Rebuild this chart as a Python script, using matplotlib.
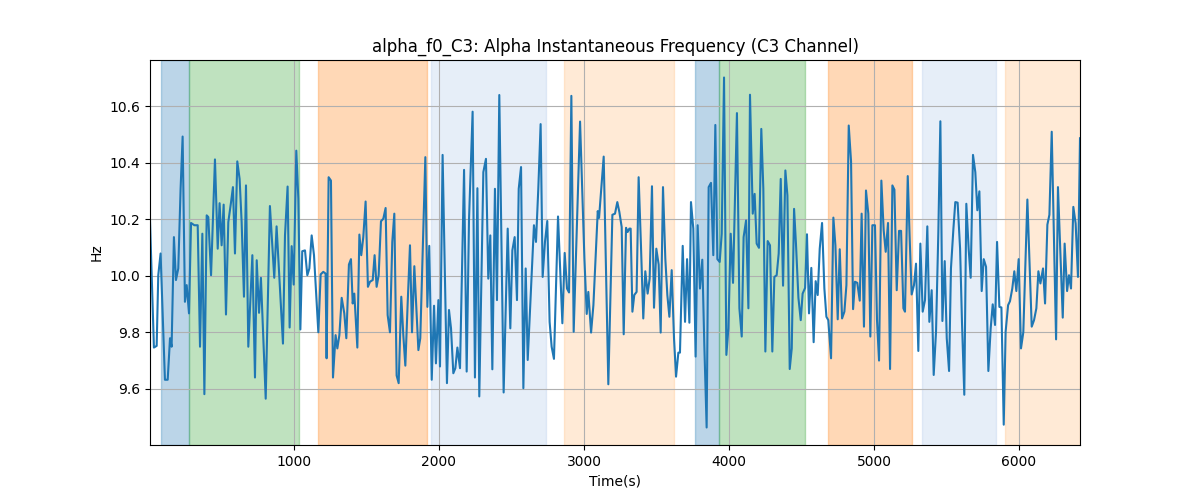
import numpy as np
import matplotlib
matplotlib.use("Agg")
from matplotlib import pyplot as plt

plt.rcParams["figure.figsize"] = [12, 5]

# ------------------------------------------------  data  ------------------------------------------------ #

time_s = [
    7, 34, 53, 64, 80, 110, 129, 145, 156, 172, 186, 202, 218, 232, 248, 260, 276, 290, 313, 336,
    352, 368, 382, 398, 409, 428, 455, 474, 487, 501, 515, 531, 547, 566, 579, 593, 609, 625, 639, 655,
    669, 685, 713, 731, 743, 759, 772, 805, 834, 864, 880, 924, 938, 956, 970, 984, 998, 1016, 1030, 1044,
    1057, 1076, 1092, 1106, 1122, 1138, 1168, 1184, 1202, 1218, 1225, 1239, 1255, 1269, 1287, 1299, 1313, 1329, 1347, 1361,
    1379, 1393, 1405, 1416, 1437, 1451, 1464, 1478, 1494, 1510, 1524, 1543, 1556, 1570, 1584, 1600, 1616, 1632, 1646, 1662,
    1678, 1692, 1708, 1722, 1740, 1754, 1768, 1784, 1800, 1814, 1830, 1844, 1858, 1871, 1906, 1920, 1933, 1950, 1966, 1979,
    1996, 2007, 2025, 2055, 2069, 2083, 2099, 2113, 2127, 2145, 2173, 2191, 2207, 2232, 2248, 2265, 2278, 2306, 2324, 2340,
    2354, 2368, 2386, 2400, 2416, 2446, 2474, 2492, 2506, 2522, 2538, 2550, 2566, 2582, 2598, 2612, 2655, 2669, 2685, 2701,
    2715, 2731, 2747, 2763, 2777, 2793, 2821, 2851, 2867, 2883, 2897, 2913, 2929, 2973, 3003, 3019, 3030, 3049, 3065, 3095,
    3104, 3136, 3168, 3196, 3214, 3230, 3244, 3260, 3274, 3290, 3301, 3313, 3322, 3334, 3347, 3363, 3377, 3393, 3409, 3423,
    3439, 3453, 3469, 3483, 3499, 3515, 3529, 3545, 3561, 3575, 3589, 3605, 3621, 3635, 3651, 3662, 3681, 3697, 3711, 3727,
    3738, 3754, 3770, 3784, 3800, 3816, 3830, 3846, 3860, 3876, 3892, 3906, 3920, 3936, 3950, 3966, 3982, 3996, 4012, 4028,
    4055, 4072, 4088, 4101, 4118, 4134, 4145, 4164, 4177, 4191, 4207, 4223, 4237, 4251, 4267, 4283, 4299, 4313, 4329, 4343,
    4357, 4373, 4389, 4403, 4419, 4433, 4449, 4462, 4479, 4495, 4508, 4525, 4538, 4552, 4568, 4584, 4598, 4612, 4626, 4642,
    4658, 4672, 4685, 4704, 4720, 4734, 4750, 4764, 4780, 4796, 4810, 4826, 4842, 4856, 4869, 4885, 4902, 4915, 4931, 4945,
    4961, 4975, 4989, 5007, 5021, 5035, 5051, 5067, 5081, 5097, 5111, 5127, 5141, 5157, 5173, 5187, 5203, 5214, 5233, 5246,
    5260, 5276, 5290, 5306, 5320, 5336, 5352, 5368, 5382, 5398, 5412, 5428, 5444, 5458, 5472, 5488, 5502, 5518, 5531, 5548,
    5561, 5577, 5594, 5607, 5623, 5637, 5653, 5667, 5683, 5699, 5713, 5727, 5743, 5757, 5773, 5789, 5805, 5819, 5835, 5849,
    5865, 5879, 5895, 5908, 5925, 5938, 5954, 5968, 5982, 5998, 6014, 6030, 6058, 6088, 6104, 6120, 6134, 6148, 6166, 6180,
    6196, 6210, 6226, 6256, 6269, 6302, 6315, 6332, 6345, 6359, 6375, 6391, 6407, 6421,
]

freq_hz = [
    10.195, 9.745, 9.751, 10.001, 10.078, 9.631, 9.631, 9.778, 9.748, 10.136, 9.984, 10.025, 10.307, 10.492, 9.907, 9.966, 9.866, 10.186, 10.178, 10.178,
    9.748, 10.148, 9.580, 10.213, 10.207, 10.001, 10.411, 10.095, 10.256, 10.107, 10.251, 9.862, 10.189, 10.260, 10.313, 10.078, 10.404, 10.342, 10.189, 9.925,
    10.319, 9.748, 10.072, 9.639, 10.054, 9.868, 9.992, 9.564, 10.246, 9.992, 10.174, 9.759, 10.142, 10.315, 9.816, 10.104, 9.968, 10.442, 10.272, 9.809,
    10.086, 10.089, 10.001, 10.025, 10.142, 10.072, 9.799, 10.004, 10.013, 10.007, 9.707, 10.348, 10.336, 9.639, 9.789, 9.742, 9.789, 9.921, 9.866, 9.778,
    10.039, 10.058, 9.901, 9.936, 9.745, 10.145, 10.072, 10.136, 10.262, 9.960, 9.978, 9.984, 10.072, 9.960, 10.001, 10.192, 10.201, 10.239, 9.860, 9.799,
    10.119, 10.219, 9.646, 9.619, 9.925, 9.789, 9.681, 9.901, 10.107, 9.799, 10.033, 9.884, 9.736, 9.778, 10.419, 9.889, 10.105, 9.631, 9.893, 9.689,
    9.913, 9.678, 10.427, 9.619, 9.878, 9.813, 9.654, 9.672, 9.745, 9.672, 10.374, 9.660, 10.195, 10.580, 9.639, 10.309, 9.572, 10.366, 10.413, 9.989,
    10.142, 9.668, 10.307, 9.913, 10.639, 9.586, 10.166, 9.813, 10.089, 10.136, 9.913, 10.307, 10.384, 9.601, 10.025, 9.701, 10.178, 10.119, 10.307, 10.536,
    9.995, 10.119, 10.193, 9.836, 9.748, 9.705, 10.209, 9.831, 10.080, 9.954, 9.940, 10.636, 9.801, 10.545, 10.060, 9.864, 9.942, 9.798, 9.895, 10.228,
    10.204, 10.421, 9.615, 10.215, 10.219, 10.260, 10.225, 10.172, 9.792, 10.169, 10.154, 10.166, 10.166, 9.872, 9.931, 9.942, 10.348, 10.107, 9.848, 10.015,
    9.936, 9.989, 10.316, 9.886, 10.095, 10.039, 9.798, 10.313, 10.060, 9.931, 9.854, 10.019, 9.778, 9.642, 9.727, 9.727, 10.105, 9.836, 10.058, 9.833,
    10.260, 10.166, 9.713, 10.178, 9.954, 10.056, 9.754, 9.462, 10.313, 10.328, 10.072, 10.533, 10.058, 10.048, 10.148, 10.701, 9.719, 9.813, 10.148, 9.974,
    10.575, 9.884, 9.784, 10.136, 10.195, 9.884, 10.640, 10.219, 10.289, 10.113, 10.098, 10.519, 10.307, 9.731, 10.122, 10.107, 9.731, 9.995, 10.001, 10.078,
    10.342, 9.964, 10.372, 10.284, 9.669, 9.742, 10.236, 10.113, 9.921, 9.842, 9.936, 9.956, 10.146, 9.866, 10.027, 9.764, 9.980, 9.931, 10.095, 10.186,
    9.954, 9.854, 9.842, 9.707, 10.205, 10.107, 9.845, 10.093, 9.848, 9.872, 9.966, 10.531, 10.404, 9.881, 9.978, 9.974, 9.911, 10.219, 9.819, 10.301,
    10.219, 9.784, 10.178, 10.178, 9.842, 9.699, 10.336, 10.160, 10.084, 10.186, 9.669, 10.319, 10.304, 9.948, 10.158, 10.158, 9.884, 9.872, 10.352, 10.136,
    9.933, 9.966, 10.042, 9.733, 10.113, 9.872, 9.913, 10.174, 9.836, 9.948, 9.648, 9.801, 10.154, 10.546, 9.839, 10.051, 9.778, 9.662, 10.025, 10.166,
    10.260, 10.258, 10.095, 9.836, 9.578, 10.254, 10.095, 9.992, 10.427, 10.366, 10.231, 10.298, 9.945, 10.058, 10.031, 9.662, 9.813, 9.898, 9.825, 10.119,
    9.889, 9.887, 9.472, 9.801, 9.895, 9.909, 9.954, 10.015, 9.945, 10.058, 9.742, 9.799, 10.269, 9.819, 9.842, 9.884, 10.015, 9.972, 10.025, 9.901,
    10.180, 10.215, 10.509, 9.774, 10.313, 9.851, 10.113, 9.945, 10.001, 9.954, 10.243, 10.184, 9.995, 10.486,
]

# shaded segments: start, end, colour (all drawn at alpha 0.3)
seg_start = [83, 276, 1168, 1945, 2864, 3768, 3933, 4685, 5329, 5904]
seg_end   = [276, 1037, 1915, 2736, 3621, 3933, 4522, 5260, 5841, 6421]
seg_color = ["#1f77b4", "#2ca02c", "#ff7f0e", "#aec7e8", "#ffbb78",
             "#1f77b4", "#2ca02c", "#ff7f0e", "#aec7e8", "#ffbb78"]


#  -------------------------------------------  plot  ------------------------------------------  #

fig, ax = plt.subplots()

for s, e, c in zip(seg_start, seg_end, seg_color):
    ax.axvspan(s, e, color=c, alpha=0.3)

ax.plot(time_s, freq_hz, '-', c='tab:blue')

ax.set_xlim(min(time_s), max(time_s))
ax.grid(True)

ax.set_xlabel("Time(s)")
ax.set_ylabel("Hz")
ax.set_title("alpha_f0_C3: Alpha Instantaneous Frequency (C3 Channel)")

plt.savefig("out.png")
